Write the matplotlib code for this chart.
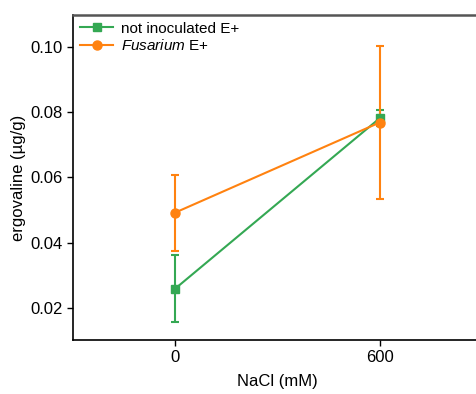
import numpy as np
import matplotlib.pyplot as plt
from matplotlib.lines import Line2D

plt.rcParams['font.family'] = ['Liberation Sans', 'DejaVu Sans']
plt.rcParams['mathtext.fontset'] = 'custom'
plt.rcParams['mathtext.it'] = 'Liberation Sans:italic'
plt.rcParams['mathtext.rm'] = 'Liberation Sans'

# NaCl concentration (mM)
nacl = [0, 600]

# ergovaline (ug/g)
not_inoc = [0.0258, 0.0782]
not_inoc_err = [0.0103, 0.0025]
fusarium = [0.0492, 0.0769]
fusarium_err = [0.0117, 0.0236]

labels = ['not inoculated E+', '$\\it{Fusarium}$ E+']

green = '#34a853'
orange = '#ff8210'

fig = plt.figure(figsize=(4.77, 3.94), dpi=100)
ax = fig.add_axes([0.153, 0.137, 0.857, 0.825])

ax.errorbar(nacl, not_inoc, yerr=not_inoc_err, color=green, marker='s', markersize=6,
            linewidth=1.5, capsize=3, elinewidth=1.5, capthick=1.5)
ax.errorbar(nacl, fusarium, yerr=fusarium_err, color=orange, marker='o', markersize=6.5,
            linewidth=1.5, capsize=3, elinewidth=1.5, capthick=1.5)

ax.set_xlim(-300, 900)
ax.set_ylim(0.01, 0.11)
ax.set_xticks(nacl)
ax.set_yticks([0.02, 0.04, 0.06, 0.08, 0.10])
ax.set_yticklabels(['0.02', '0.04', '0.06', '0.08', '0.10'])
ax.tick_params(labelsize=12, length=4, width=1)

ax.spines['right'].set_visible(False)
ax.spines['top'].set_color('#555555')
ax.spines['top'].set_linewidth(1.8)
ax.spines['left'].set_linewidth(1.2)
ax.spines['bottom'].set_linewidth(1.2)

ax.set_xlabel('NaCl (mM)', fontsize=12, labelpad=6)
ax.set_ylabel('ergovaline (µg/g)', fontsize=12, labelpad=3)

handles = [Line2D([], [], color=green, marker='s', markersize=6, linewidth=1.5),
           Line2D([], [], color=orange, marker='o', markersize=6.5, linewidth=1.5)]
ax.legend(handles, labels, loc='upper left', frameon=False, fontsize=11, handlelength=2.2,
          borderaxespad=0.15, handletextpad=0.5, labelspacing=0.15,
          borderpad=0.3)

fig.savefig('out.png', dpi=100)
